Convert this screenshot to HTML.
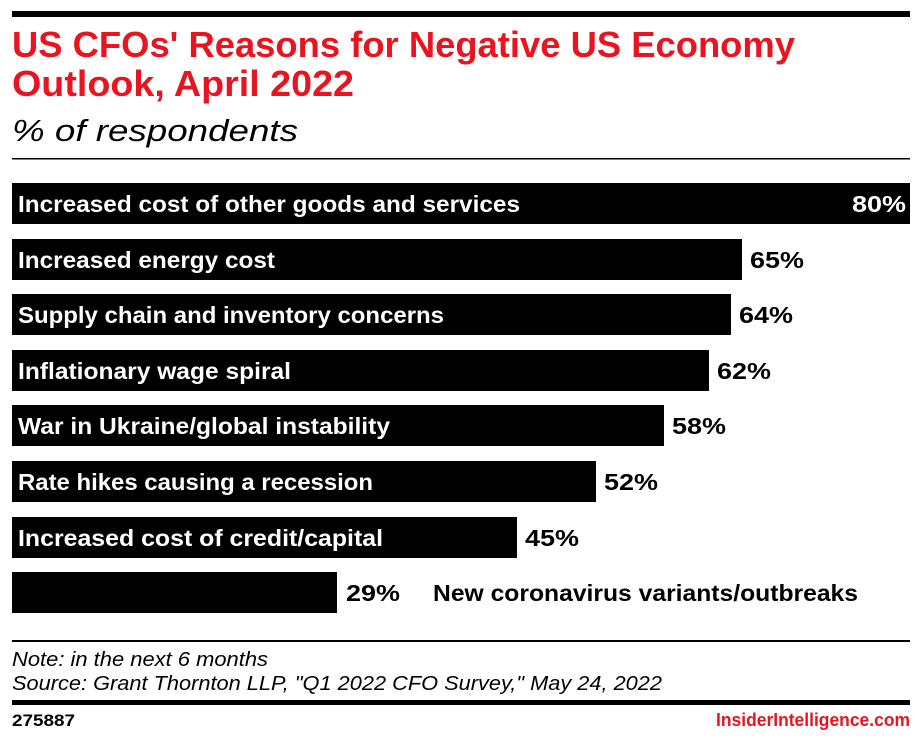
<!DOCTYPE html>
<html><head><meta charset="utf-8"><style>html,body{margin:0;padding:0;background:#fff}</style></head>
<body>
<svg width="922" height="742" viewBox="0 0 922 742" xmlns="http://www.w3.org/2000/svg" font-family="Liberation Sans, sans-serif">
<rect x="12" y="11" width="898" height="6" fill="#000"/>
<text x="12" y="57" font-size="36" font-weight="bold" fill="#e8141f" textLength="783" lengthAdjust="spacingAndGlyphs">US CFOs' Reasons for Negative US Economy</text>
<text x="12" y="96" font-size="36" font-weight="bold" fill="#e8141f" textLength="342" lengthAdjust="spacingAndGlyphs">Outlook, April 2022</text>
<text x="12" y="141" font-size="31" font-style="italic" fill="#000" textLength="286" lengthAdjust="spacingAndGlyphs">% of respondents</text>
<rect x="12" y="158" width="898" height="1.5" fill="#000"/>
<g font-size="23" font-weight="bold">
<rect x="12" y="183" width="898" height="41" fill="#000"/>
<text x="18" y="212" fill="#fff" textLength="502" lengthAdjust="spacingAndGlyphs">Increased cost of other goods and services</text>
<text x="852" y="212" fill="#fff" textLength="54" lengthAdjust="spacingAndGlyphs">80%</text>
<rect x="12" y="239" width="730" height="41" fill="#000"/>
<text x="18" y="268" fill="#fff" textLength="257" lengthAdjust="spacingAndGlyphs">Increased energy cost</text>
<text x="750" y="268" fill="#000" textLength="54" lengthAdjust="spacingAndGlyphs">65%</text>
<rect x="12" y="294" width="719" height="41" fill="#000"/>
<text x="18" y="323" fill="#fff" textLength="426" lengthAdjust="spacingAndGlyphs">Supply chain and inventory concerns</text>
<text x="739" y="323" fill="#000" textLength="54" lengthAdjust="spacingAndGlyphs">64%</text>
<rect x="12" y="350" width="697" height="41" fill="#000"/>
<text x="18" y="379" fill="#fff" textLength="273" lengthAdjust="spacingAndGlyphs">Inflationary wage spiral</text>
<text x="717" y="379" fill="#000" textLength="54" lengthAdjust="spacingAndGlyphs">62%</text>
<rect x="12" y="405" width="652" height="41" fill="#000"/>
<text x="18" y="434" fill="#fff" textLength="372" lengthAdjust="spacingAndGlyphs">War in Ukraine/global instability</text>
<text x="672" y="434" fill="#000" textLength="54" lengthAdjust="spacingAndGlyphs">58%</text>
<rect x="12" y="461" width="584" height="41" fill="#000"/>
<text x="18" y="490" fill="#fff" textLength="355" lengthAdjust="spacingAndGlyphs">Rate hikes causing a recession</text>
<text x="604" y="490" fill="#000" textLength="54" lengthAdjust="spacingAndGlyphs">52%</text>
<rect x="12" y="517" width="505" height="41" fill="#000"/>
<text x="18" y="546" fill="#fff" textLength="365" lengthAdjust="spacingAndGlyphs">Increased cost of credit/capital</text>
<text x="525" y="546" fill="#000" textLength="54" lengthAdjust="spacingAndGlyphs">45%</text>
<rect x="12" y="572" width="325" height="41" fill="#000"/>
<text x="346" y="601" fill="#000" textLength="54" lengthAdjust="spacingAndGlyphs">29%</text>
<text x="433" y="601" fill="#000" textLength="425" lengthAdjust="spacingAndGlyphs">New coronavirus variants/outbreaks</text>
</g>
<rect x="12" y="640" width="898" height="2" fill="#000"/>
<text x="12" y="666" font-size="20" font-style="italic" fill="#000" textLength="256" lengthAdjust="spacingAndGlyphs">Note: in the next 6 months</text>
<text x="12" y="690" font-size="20" font-style="italic" fill="#000" textLength="650" lengthAdjust="spacingAndGlyphs">Source: Grant Thornton LLP, "Q1 2022 CFO Survey," May 24, 2022</text>
<rect x="12" y="700" width="898" height="5" fill="#000"/>
<text x="12" y="726" font-size="17" font-weight="bold" fill="#000" textLength="63" lengthAdjust="spacingAndGlyphs">275887</text>
<text x="910" y="726" font-size="18" font-weight="bold" fill="#e8141f" text-anchor="end" textLength="194" lengthAdjust="spacingAndGlyphs">InsiderIntelligence.com</text>
</svg>
</body></html>
